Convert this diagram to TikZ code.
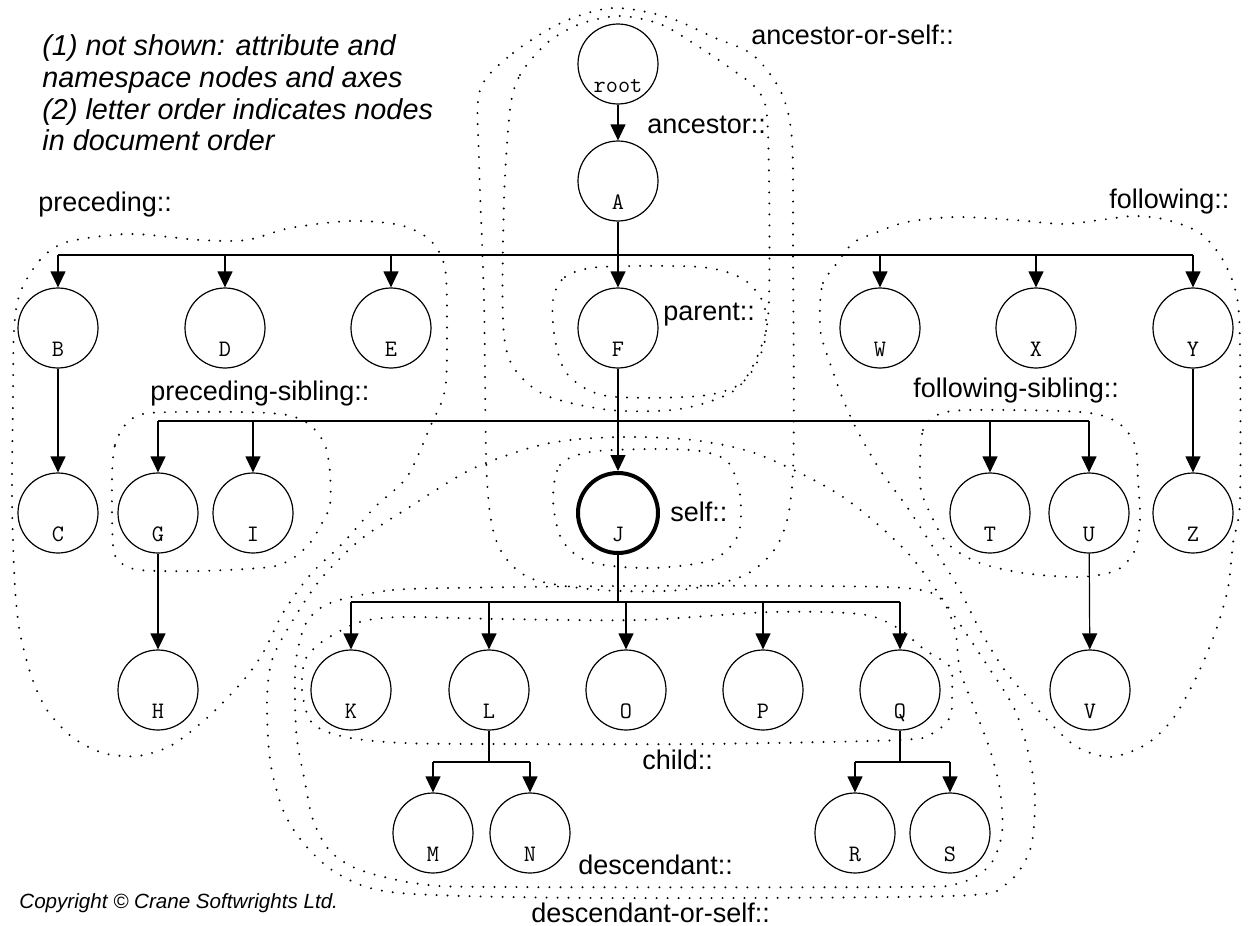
\documentclass[tikz,border=0pt]{standalone}
\usepackage{fontspec}
\setmainfont{Liberation Sans}
\usetikzlibrary{arrows.meta}

\begin{document}
\begin{tikzpicture}[x=0.5pt,y=-0.5pt,
  elem/.style={draw, circle, line width=0.6pt, minimum size=40pt, inner sep=0pt,
    text height=28pt, text depth=0pt, font=\ttfamily\fontsize{11.8}{13}\selectfont},
  arr/.style={line width=0.6pt, -{Triangle[length=8pt,width=7.5pt]}},
  wire/.style={line width=0.6pt},
  axis/.style={line width=1.1pt, line cap=round, dash pattern=on 0pt off 5.5pt},
  lbl/.style={anchor=west, inner sep=0pt, font=\fontsize{13.5}{16}\selectfont}]
\useasboundingbox (0,0) rectangle (1250,926);

% notes
\node[anchor=west, align=left, inner sep=0pt, font=\itshape\fontsize{14.4}{15.9}\selectfont] (notes) at (42,93)
  {(1) not shown: attribute and\\namespace nodes and axes\\(2) letter order indicates nodes\\in document order};
\node[anchor=west, inner sep=0pt, font=\itshape\fontsize{10.3}{12}\selectfont] (copy) at (19,903)
  {Copyright \textcopyright{} Crane Softwrights Ltd.};

% the tree
\node[elem] (root) at (618,64) {root};
\node[elem] (A) at (618,181) {A};
\node[elem] (B) at (58,328) {B};
\node[elem] (D) at (225,328) {D};
\node[elem] (E) at (391,328) {E};
\node[elem] (F) at (618,328) {F};
\node[elem] (W) at (880,328) {W};
\node[elem] (X) at (1036,328) {X};
\node[elem] (Y) at (1193,328) {Y};
\node[elem] (C) at (58,513) {C};
\node[elem] (G) at (158,513) {G};
\node[elem] (I) at (253,513) {I};
\node[elem, line width=2pt] (J) at (618,513) {J};
\node[elem] (T) at (990,513) {T};
\node[elem] (U) at (1089,513) {U};
\node[elem] (Z) at (1193,513) {Z};
\node[elem] (H) at (158,690) {H};
\node[elem] (K) at (351,690) {K};
\node[elem] (L) at (489,690) {L};
\node[elem] (O) at (626,690) {O};
\node[elem] (P) at (763,690) {P};
\node[elem] (Q) at (900,690) {Q};
\node[elem] (V) at (1090,690) {V};
\node[elem] (M) at (433,833) {M};
\node[elem] (N) at (530,833) {N};
\node[elem] (R) at (855,833) {R};
\node[elem] (S) at (950,833) {S};

\coordinate (barA) at (618,255);
\coordinate (barF) at (618,421);
\coordinate (barJ) at (618,602);
\coordinate (barL) at (489,762);
\coordinate (barQ) at (900,762);

\draw[arr] (root) -- (A);
\draw[arr] (A) -- (F);
\draw[wire] (barA -| B) -- (barA -| Y);
\foreach \n in {B,D,E,W,X,Y}
  \draw[arr] (barA -| \n) -- (\n);
\draw[arr] (F) -- (J);
\draw[wire] (barF -| G) -- (barF -| U);
\foreach \n in {G,I,T,U}
  \draw[arr] (barF -| \n) -- (\n);
\draw[wire] (J) -- (barJ);
\draw[wire] (barJ -| K) -- (barJ -| Q);
\foreach \n in {K,L,O,P,Q}
  \draw[arr] (barJ -| \n) -- (\n);
\draw[wire] (L) -- (barL);
\draw[wire] (barL -| M) -- (barL -| N);
\draw[arr] (barL -| M) -- (M);
\draw[arr] (barL -| N) -- (N);
\draw[wire] (Q) -- (barQ);
\draw[wire] (barQ -| R) -- (barQ -| S);
\draw[arr] (barQ -| R) -- (R);
\draw[arr] (barQ -| S) -- (S);
\draw[arr] (B) -- (C);
\draw[arr] (G) -- (H);
\draw[arr] (U) -- (V);
\draw[arr] (Y) -- (Z);

% axes
\draw[axis] plot[smooth cycle] coordinates {(480,90) (513,53) (563,22) (613,8) (667,17) (713,37)
  (753,55) (781,92) (792,140) (793,250) (793,470) (780,540) (745,575) (680,590) (600,590)
  (530,578) (498,545) (487,480) (484,300) (479,160)};
\draw[axis] plot[smooth cycle] coordinates {(510,110) (520,75) (547,43) (580,24) (620,16) (660,24)
  (693,43) (730,68) (760,93) (768,133) (769,300) (760,350) (735,390) (680,409) (610,410)
  (545,395) (512,365) (503,320) (504,200)};
\draw[axis] plot[smooth cycle] coordinates {(553,300) (565,277) (600,267) (700,267) (743,279)
  (764,305) (764,345) (743,382) (700,396) (607,396) (568,375) (555,340)};
\draw[axis] plot[smooth cycle] coordinates {(553,500) (560,465) (590,452) (650,449) (700,451)
  (728,462) (740,495) (738,535) (712,560) (650,568) (590,562) (562,540)};
\draw[axis] plot[smooth cycle] coordinates {(533,447) (580,439) (640,437) (700,441) (760,455)
  (840,495) (905,550) (948,607) (987,665) (1015,710) (1030,760) (1035,800) (1030,850)
  (1005,885) (950,896) (600,898) (400,893) (340,875) (305,845) (283,810) (270,760)
  (267,700) (272,660) (290,625) (320,580) (360,540) (408,508) (470,470)};
\draw[axis] plot[smooth cycle] coordinates {(347,598) (393,590) (450,588) (620,586) (800,586)
  (905,588) (940,598) (955,630) (960,670) (975,710) (990,750) (1000,790) (1002,833)
  (990,865) (960,883) (900,887) (500,887) (420,884) (360,870) (330,851) (313,820)
  (304,777) (297,740) (295,700) (296,660) (305,625) (322,607)};
\draw[axis] plot[smooth cycle] coordinates {(333,635) (360,622) (400,617) (500,619) (640,620)
  (771,612) (860,614) (896,627) (925,650) (950,667) (952,693) (950,717) (933,733) (900,740)
  (700,744) (500,744) (403,743) (345,737) (312,723) (302,690) (305,660) (318,645)};
\draw[axis] plot[smooth cycle] coordinates {(20,293) (40,260) (67,242) (130,234) (200,240)
  (247,240) (290,228) (350,221) (400,225) (430,240) (445,268) (447,330) (445,390) (430,427)
  (407,477) (375,507) (343,543) (310,575) (283,613) (263,653) (242,682) (208,717) (172,745)
  (138,756) (103,753) (72,737) (47,710) (32,678) (20,633) (15,587) (12,500) (13,400) (14,330)};
\draw[axis] plot[smooth cycle] coordinates {(112,480) (115,445) (127,423) (150,413) (240,412)
  (287,415) (310,425) (325,445) (330,473) (330,505) (322,523) (310,543) (293,558) (270,567)
  (200,571) (140,570) (120,562) (113,545)};
\draw[axis] plot[smooth cycle] coordinates {(920,463) (923,430) (937,415) (970,410) (1080,412)
  (1117,422) (1135,445) (1138,480) (1140,520) (1135,550) (1117,570) (1080,577) (1023,573)
  (977,562) (947,543) (930,513) (921,490)};
\draw[axis] plot[smooth cycle] coordinates {(820,307) (823,283) (837,263) (853,243) (875,233)
  (907,222) (956,217) (1014,220) (1063,224) (1100,220) (1135,216) (1167,220) (1200,233)
  (1223,260) (1237,297) (1240,350) (1240,500) (1233,543) (1228,588) (1215,633) (1195,680)
  (1172,720) (1145,745) (1110,757) (1077,747) (1050,723) (1027,697) (1003,668) (980,630)
  (958,587) (933,547) (907,507) (880,470) (857,430) (842,397) (830,363) (821,335)};

% axis names
\node[lbl] (lancself) at (751,35) {ancestor-or-self::};
\node[lbl] (lanc) at (647,125) {ancestor::};
\node[lbl] (lprec) at (38,205) {preceding::};
\node[lbl] (lfoll) at (1109,202) {following::};
\node[lbl] (lparent) at (663,315) {parent::};
\node[lbl] (lprecsib) at (150,394) {preceding-sibling::};
\node[lbl] (lfollsib) at (913,391) {following-sibling::};
\node[lbl] (lself) at (670,512) {self::};
\node[lbl] (lchild) at (642,760) {child::};
\node[lbl] (ldesc) at (578,865) {descendant::};
\node[lbl] (ldescself) at (531,913) {descendant-or-self::};
\end{tikzpicture}
\end{document}
